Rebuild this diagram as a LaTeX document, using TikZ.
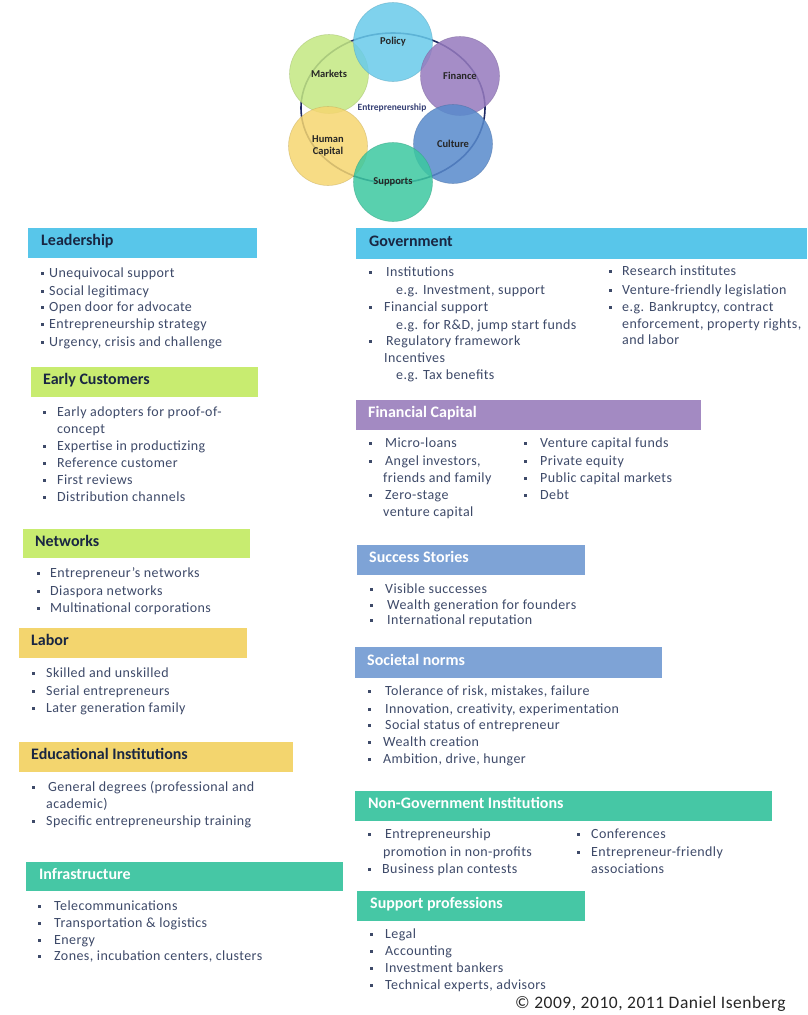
\documentclass[tikz,border=0pt]{standalone}
\usepackage{fontspec}
\setmainfont{Carlito}
\newfontfamily\bodyfont[LetterSpace=3]{Carlito}
\newfontfamily\hdrfont{Carlito}
\definecolor{lblue}{RGB}{88,198,234}
\definecolor{lgreen}{RGB}{200,236,112}
\definecolor{lyellow}{RGB}{243,213,110}
\definecolor{lpurple}{RGB}{163,138,194}
\definecolor{mblue}{RGB}{126,163,214}
\definecolor{lteal}{RGB}{70,199,165}
\definecolor{bodyc}{RGB}{62,74,105}
\definecolor{hdrc}{RGB}{25,38,66}
\definecolor{ringc}{RGB}{30,42,100}
\definecolor{cpol}{RGB}{105,203,235}
\definecolor{cfin}{RGB}{150,122,190}
\definecolor{ccul}{RGB}{88,138,204}
\definecolor{csup}{RGB}{60,200,160}
\definecolor{chum}{RGB}{246,214,112}
\definecolor{cmar}{RGB}{196,232,130}
\newcounter{itm}
\newcommand\bitem[4]{\stepcounter{itm}\fill[bodyc] ({#1-1.5},{#3-1}) rectangle ({#1+1.5},{#3+2}); \node[itemtxt] (it\arabic{itm}) at (#2,{#3+4.8}) {#4};}
\newcommand\citem[3]{\stepcounter{itm}\node[itemtxt] (it\arabic{itm}) at (#1,{#2+4.8}) {#3};}
\tikzset{
  itemtxt/.style={anchor=base west, inner sep=0pt, text=bodyc, font=\bodyfont\fontsize{14}{16}\selectfont},
  hdrbox/.style={anchor=north west, inner sep=0pt, draw=none, fill=#1},
  hdrtxt/.style={anchor=mid west, inner sep=0pt, text=hdrc, font=\hdrfont\bfseries\fontsize{16}{18}\selectfont},
  hdrwhite/.style={hdrtxt, text=white},
  circ/.style={circle, minimum size=79pt, inner sep=0pt, fill=#1, fill opacity=0.85, text opacity=1, draw=#1!80!black, draw opacity=0.5, line width=0.6pt, text=black!85, font=\bfseries\fontsize{10.5}{12}\selectfont, align=center},
}
\begin{document}
\begin{tikzpicture}[x=1pt,y=-1pt]
\useasboundingbox[fill=white] (0,0) rectangle (807,1015);

% ---- circle diagram ----
\draw[ringc, line width=1.6pt] (393,108) ellipse [x radius=92, y radius=75];
\node[circ=cmar] (markets) at (329,74) {Markets};
\node[circ=cpol] (policy) at (393,42) {Policy};
\node[circ=cfin] (finance) at (460,76) {Finance};
\node[circ=ccul] (culture) at (453,144) {Culture};
\node[circ=chum] (human) at (328,146) {Human\\Capital};
\node[circ=csup] (supports) at (393,182) {Supports};
\node[inner sep=0pt, text=ringc!90!white, font=\bfseries\fontsize{9.5}{11}\selectfont] (entre) at (392,108) {Entrepreneurship};

% ---- left column ----
\node[hdrbox=lblue, minimum width=229pt, minimum height=30pt] (lead) at (28,228) {};
\node[hdrtxt] (leadt) at ([xshift=13pt]lead.west) {Leadership};
\bitem{42}{49}{273}{Unequivocal  support}
\bitem{42}{49}{291}{Social legitimacy}
\bitem{42}{49}{307}{Open door  for advocate}
\bitem{42}{49}{324}{Entrepreneurship  strategy}
\bitem{42}{49}{342}{Urgency, crisis and challenge}

\node[hdrbox=lgreen, minimum width=227pt, minimum height=30pt] (early) at (31,367) {};
\node[hdrtxt] (earlyt) at ([xshift=12pt]early.west) {Early Customers};
\bitem{44}{57}{412}{Early adopters for proof-of-}
\citem{57}{429}{concept}
\bitem{44}{57}{446}{Expertise in productizing}
\bitem{44}{57}{463}{Reference customer}
\bitem{44}{57}{480}{First reviews}
\bitem{44}{57}{497}{Distribution channels}

\node[hdrbox=lgreen, minimum width=227pt, minimum height=29pt] (netw) at (23,529) {};
\node[hdrtxt] (netwt) at ([xshift=12pt]netw.west) {Networks};
\bitem{38}{50}{573}{Entrepreneur’s  networks}
\bitem{38}{50}{591}{Diaspora networks}
\bitem{38}{50}{608}{Multinational corporations}

\node[hdrbox=lyellow, minimum width=228pt, minimum height=30pt] (labor) at (19,628) {};
\node[hdrtxt] (labort) at ([xshift=12pt]labor.west) {Labor};
\bitem{33}{46}{673}{Skilled and unskilled}
\bitem{33}{46}{691}{Serial entrepreneurs}
\bitem{33}{46}{708}{Later generation  family}

\node[hdrbox=lyellow, minimum width=274pt, minimum height=30pt] (edu) at (19,742) {};
\node[hdrtxt] (edut) at ([xshift=12pt]edu.west) {Educational  Institutions};
\bitem{33}{48}{787}{General degrees (professional  and}
\citem{46}{804}{academic)}
\bitem{33}{46}{821}{Specific entrepreneurship  training}

\node[hdrbox=lteal, minimum width=317pt, minimum height=29pt] (infra) at (26,862) {};
\node[hdrwhite] (infrat) at ([xshift=13pt]infra.west) {Infrastructure};
\bitem{39}{54}{906}{Telecommunications}
\bitem{39}{54}{923}{Transportation  \& logistics}
\bitem{39}{54}{940}{Energy}
\bitem{39}{54}{956}{Zones, incubation  centers,  clusters}

% ---- right column ----
\node[hdrbox=lblue, minimum width=451pt, minimum height=31pt] (gov) at (356,228) {};
\node[hdrtxt] (govt) at ([xshift=13pt]gov.west) {Government};
\bitem{370}{386}{272}{Institutions}
\citem{396}{290}{e.g.  Investment, support}
\bitem{370}{384}{307}{Financial support}
\citem{396}{325}{e.g. for R\&D, jump  start funds}
\bitem{370}{386}{341}{Regulatory framework}
\citem{384}{358}{Incentives}
\citem{396}{375}{e.g.  Tax benefits}
\bitem{610}{622}{271}{Research institutes}
\bitem{610}{622}{290}{Venture-friendly  legislation}
\bitem{610}{622}{307}{e.g. Bankruptcy, contract}
\citem{622}{324}{enforcement, property  rights,}
\citem{622}{340}{and labor}

\node[hdrbox=lpurple, minimum width=345pt, minimum height=30pt] (fin) at (356,400) {};
\node[hdrwhite] (fint) at ([xshift=12pt]fin.west) {Financial  Capital};
\bitem{370}{385}{443}{Micro-loans}
\bitem{370}{385}{461}{Angel investors,}
\citem{383}{478}{friends and family}
\bitem{370}{385}{495}{Zero-stage}
\citem{383}{512}{venture capital}
\bitem{525}{540}{443}{Venture capital  funds}
\bitem{525}{540}{461}{Private equity}
\bitem{525}{540}{478}{Public capital markets}
\bitem{525}{540}{495}{Debt}

\node[hdrbox=mblue, minimum width=228pt, minimum height=30pt] (succ) at (357,545) {};
\node[hdrwhite] (succt) at ([xshift=12pt]succ.west) {Success Stories};
\bitem{371}{385}{589}{Visible successes}
\bitem{371}{387}{605}{Wealth generation for founders}
\bitem{371}{387}{620}{International reputation}

\node[hdrbox=mblue, minimum width=307pt, minimum height=31pt] (soc) at (355,647) {};
\node[hdrwhite] (soct) at ([xshift=12pt]soc.west) {Societal norms};
\bitem{369}{385}{691}{Tolerance  of risk, mistakes, failure}
\bitem{369}{385}{709}{Innovation,  creativity, experimentation}
\bitem{369}{385}{725}{Social status  of entrepreneur}
\bitem{369}{383}{742}{Wealth creation}
\bitem{369}{383}{759}{Ambition, drive, hunger}

\node[hdrbox=lteal, minimum width=417pt, minimum height=30pt] (ngo) at (355,791) {};
\node[hdrwhite] (ngot) at ([xshift=13pt]ngo.west) {Non-Government Institutions};
\bitem{369}{385}{834}{Entrepreneurship}
\citem{383}{852}{promotion in non-profits}
\bitem{369}{382}{869}{Business plan contests}
\bitem{578}{591}{834}{Conferences}
\bitem{578}{591}{852}{Entrepreneur-friendly}
\citem{591}{869}{associations}

\node[hdrbox=lteal, minimum width=228pt, minimum height=30pt] (supp) at (357,891) {};
\node[hdrwhite] (suppt) at ([xshift=13pt]supp.west) {Support professions};
\bitem{371}{385}{934}{Legal}
\bitem{371}{385}{951}{Accounting}
\bitem{371}{385}{968}{Investment bankers}
\bitem{371}{385}{985}{Technical experts, advisors}

\node[anchor=mid west, inner sep=0pt, text=black!85, font=\bodyfont\fontsize{17.5}{20}\selectfont] (copy) at (515,1006) {©  2009,  2010,  2011 Daniel Isenberg};
\end{tikzpicture}
\end{document}
